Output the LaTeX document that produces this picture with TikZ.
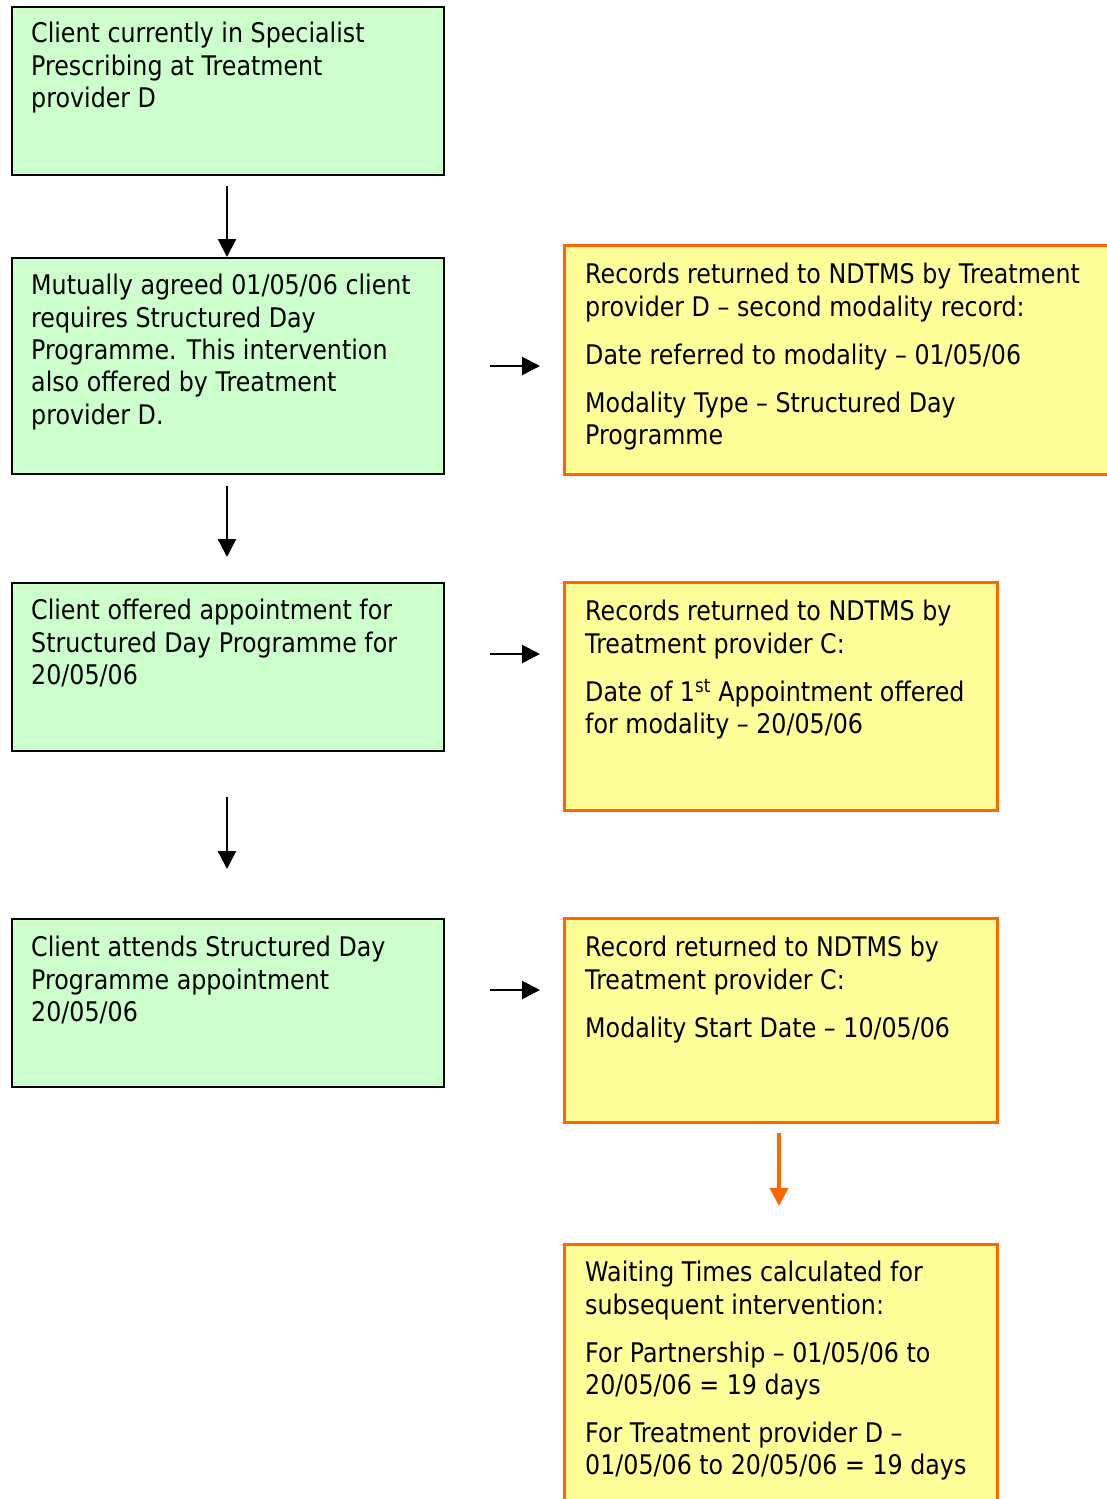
\documentclass[tikz,border=0pt]{standalone}
\usepackage{fontspec}
\setmainfont[FakeStretch=0.88]{DejaVu Sans}
\usetikzlibrary{arrows.meta}
\definecolor{gfill}{HTML}{CCFFCC}
\definecolor{yfill}{HTML}{FFFF99}
\definecolor{oline}{HTML}{FF6600}
\tikzset{
  gbox/.style={draw=black, line width=2pt, fill=gfill, anchor=north west, inner sep=0pt},
  ybox/.style={draw=oline, line width=3.2pt, fill=yfill, anchor=north west, inner sep=0pt},
  txt/.style={anchor=north west, inner sep=0pt, align=left, font=\fontsize{27pt}{32.4pt}\selectfont},
  arr/.style={line width=2.2pt, -{Triangle[length=18pt,width=18pt]}},
  oarr/.style={line width=3.8pt, oline, -{Triangle[length=18pt,width=18pt]}}
}
\begin{document}
\begin{tikzpicture}[x=1pt,y=-1pt]
\useasboundingbox (0,0) rectangle (1107,1499);
\clip (0,0) rectangle (1107,1499);
\fill[white] (0,0) rectangle (1107,1499);
% green boxes
\node[gbox, minimum width=432pt, minimum height=168pt] (g1) at (11,6) {};
\node[gbox, minimum width=432pt, minimum height=216pt] (g2) at (11,257) {};
\node[gbox, minimum width=432pt, minimum height=168pt] (g3) at (11,582) {};
\node[gbox, minimum width=432pt, minimum height=168pt] (g4) at (11,918) {};
% yellow boxes
\node[ybox, minimum width=560pt, minimum height=229pt] (y1) at (563,244) {};
\node[ybox, minimum width=433pt, minimum height=228pt] (y2) at (563,581) {};
\node[ybox, minimum width=433pt, minimum height=204pt] (y3) at (563,917) {};
\node[ybox, minimum width=433pt, minimum height=280pt] (y4) at (563,1243) {};
% texts
\node[txt] (t1) at (31,22) {Client currently in Specialist\\Prescribing at Treatment\\provider D};
\node[txt] (t2) at (31,274) {Mutually agreed 01/05/06 client\\requires Structured Day\\Programme. This intervention\\also offered by Treatment\\provider D.};
\node[txt] (t3) at (31,599) {Client offered appointment for\\Structured Day Programme for\\20/05/06};
\node[txt] (t4) at (31,936) {Client attends Structured Day\\Programme appointment\\20/05/06};
\node[txt] (t5) at (585,263) {Records returned to NDTMS by Treatment\\provider D -- second modality record:\\[15.6pt]Date referred to modality -- 01/05/06\\[15.6pt]Modality Type -- Structured Day\\Programme};
\node[txt] (t6) at (585,600) {Records returned to NDTMS by\\Treatment provider C:\\[15.6pt]Date of 1\textsuperscript{st} Appointment offered\\for modality -- 20/05/06};
\node[txt] (t7) at (585,936) {Record returned to NDTMS by\\Treatment provider C:\\[15.6pt]Modality Start Date -- 10/05/06};
\node[txt] (t8) at (585,1261) {Waiting Times calculated for\\subsequent intervention:\\[15.6pt]For Partnership -- 01/05/06 to\\20/05/06 = 19 days\\[15.6pt]For Treatment provider D --\\01/05/06 to 20/05/06 = 19 days};
% arrow end points
\coordinate (d2s) at (227,486);
\coordinate (d2e) at (227,557);
\coordinate (d3s) at (227,797);
\coordinate (d3e) at (227,869);
\coordinate (r1s) at (490,366);
\coordinate (r1e) at (540,366);
\coordinate (r2s) at (490,654);
\coordinate (r2e) at (540,654);
\coordinate (r3s) at (490,990);
\coordinate (r3e) at (540,990);
\coordinate (o1s) at (779,1133);
\coordinate (o1e) at (779,1206);
% arrows
\draw[arr, shorten <=10pt] (g1.south -| 227,0) -- (g2.north -| 227,0);
\draw[arr] (d2s) -- (d2e);
\draw[arr] (d3s) -- (d3e);
\draw[arr] (r1s) -- (r1e);
\draw[arr] (r2s) -- (r2e);
\draw[arr] (r3s) -- (r3e);
\draw[oarr] (o1s) -- (o1e);
\end{tikzpicture}
\end{document}
